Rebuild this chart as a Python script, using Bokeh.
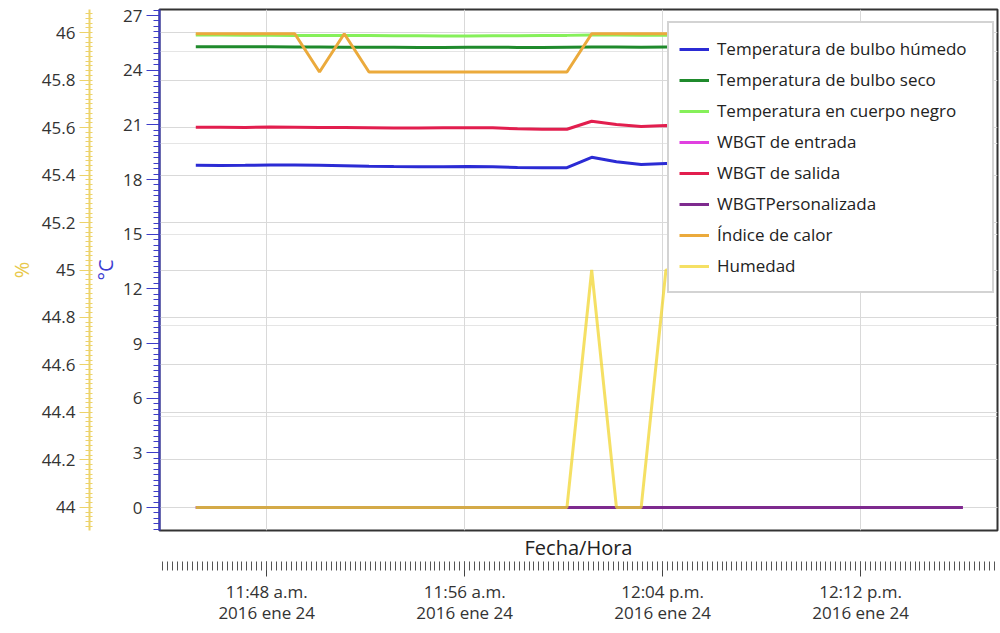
from datetime import datetime
import numpy as np
import pandas as pd
from bokeh.plotting import figure
from bokeh.models import (Range1d, LinearAxis, DatetimeAxis, FixedTicker, SingleIntervalTicker,
                          CustomJSTickFormatter, Grid, Legend, LegendItem, Title, ColumnDataSource)
from bokeh.embed import file_html
from bokeh.resources import INLINE

# ---------------- data ----------------
times = ["11:45:08", "11:46:08", "11:47:08", "11:48:08", "11:49:08", "11:50:08", "11:51:08", "11:52:08",
         "11:53:08", "11:54:08", "11:55:08", "11:56:08", "11:57:08", "11:58:08", "11:59:08", "12:00:08",
         "12:01:08", "12:02:08", "12:03:08", "12:04:08", "12:05:08", "12:06:08", "12:07:08", "12:08:08",
         "12:09:08", "12:10:08", "12:11:08", "12:12:08", "12:13:08", "12:14:08", "12:15:08", "12:16:08"]
date = "2016-01-24"

bulbo_humedo = [18.78, 18.77, 18.78, 18.80, 18.80, 18.78, 18.76, 18.73, 18.71, 18.70, 18.70, 18.71,
                18.70, 18.66, 18.65, 18.65, 19.22, 18.98, 18.82, 18.88, 18.90, 18.88, 18.86, 18.90,
                18.92, 18.90, 18.88, 18.90, 18.90, 18.92, 18.90, 18.90]
bulbo_seco = [25.29, 25.29, 25.28, 25.28, 25.27, 25.27, 25.26, 25.26, 25.26, 25.25, 25.25, 25.26,
              25.26, 25.25, 25.25, 25.26, 25.27, 25.27, 25.26, 25.27, 25.27, 25.26, 25.26, 25.27,
              25.27, 25.26, 25.26, 25.27, 25.27, 25.26, 25.26, 25.27]
cuerpo_negro = [25.93, 25.93, 25.92, 25.92, 25.91, 25.91, 25.90, 25.90, 25.89, 25.89, 25.88, 25.88,
                25.89, 25.89, 25.90, 25.91, 25.93, 25.93, 25.92, 25.92, 25.92, 25.91, 25.91, 25.92,
                25.92, 25.92, 25.91, 25.91, 25.92, 25.92, 25.91, 25.91]
wbgt_entrada = [0.0] * 32
wbgt_salida = [20.87, 20.87, 20.86, 20.88, 20.87, 20.86, 20.85, 20.84, 20.83, 20.83, 20.84, 20.84,
               20.84, 20.78, 20.76, 20.76, 21.20, 21.02, 20.91, 20.96, 20.95, 20.94, 20.93, 20.96,
               20.97, 20.95, 20.94, 20.96, 20.96, 20.97, 20.95, 20.95]
wbgt_personalizada = [0.0] * 32
indice_calor = [26.0, 26.0, 26.0, 26.0, 26.0, 23.9, 26.0, 23.9, 23.9, 23.9, 23.9, 23.9,
                23.9, 23.9, 23.9, 23.9, 26.0, 26.0, 26.0, 26.0, 26.0, 26.0, 26.0, 26.0,
                26.0, 26.0, 26.0, 26.0, 26.0, 26.0, 26.0, 26.0]
humedad = [44, 44, 44, 44, 44, 44, 44, 44, 44, 44, 44, 44, 44, 44, 44, 44,
           45, 44, 44, 45, 45, 45, 45, 45, 45, 45, 45, 45, 45, 45, 45, 45]

x_tick_times = ["11:48", "11:56", "12:04", "12:12"]

series = [
    ("Temperatura de bulbo húmedo", bulbo_humedo, "#2B2BD4", "default"),
    ("Temperatura de bulbo seco", bulbo_seco, "#1F8A2C", "default"),
    ("Temperatura en cuerpo negro", cuerpo_negro, "#86F05A", "default"),
    ("WBGT de entrada", wbgt_entrada, "#E040E0", "default"),
    ("WBGT de salida", wbgt_salida, "#E21E4E", "default"),
    ("WBGTPersonalizada", wbgt_personalizada, "#7E2A8E", "default"),
    ("Índice de calor", indice_calor, "#EBAA3C", "default"),
    ("Humedad", humedad, "#F2D630", "pct"),
]

FONT = "Open Sans"
t = pd.to_datetime([f"{date} {s}" for s in times])

p = figure(width=1000, height=633, output_backend="svg", toolbar_location=None,
           x_axis_type=None, y_axis_location=None, x_axis_location=None,
           x_range=Range1d(datetime(2016, 1, 24, 11, 43, 40), datetime(2016, 1, 24, 12, 17, 32)),
           y_range=Range1d(-1.262, 27.33),
           min_border_left=159, min_border_right=3, min_border_top=9, min_border_bottom=103)
p.extra_y_ranges = {"pct": Range1d(43.903, 46.097)}
p.outline_line_color = "#333333"
p.outline_line_width = 2
p.background_fill_color = "white"
p.border_fill_color = "white"

# ---------------- axes ----------------
ycel = LinearAxis(ticker=SingleIntervalTicker(interval=3, num_minor_ticks=10),
                  axis_label="°C")
ycel.axis_line_color = "#3C3CC8"
ycel.axis_line_width = 2
ycel.major_tick_line_color = "#3C3CC8"
ycel.minor_tick_line_color = "#3C3CC8"
ycel.major_tick_out = 13
ycel.major_tick_in = 0
ycel.minor_tick_out = 6
ycel.minor_tick_in = 0
ycel.major_label_text_font = FONT
ycel.major_label_text_font_size = "17px"
ycel.major_label_text_color = "#333333"
ycel.major_label_standoff = 4
ycel.axis_label_text_font = FONT
ycel.axis_label_text_font_size = "20px"
ycel.axis_label_text_font_style = "normal"
ycel.axis_label_text_color = "#3C3CD0"
ycel.axis_label_standoff = 1
p.add_layout(ycel, "left")

ypct = LinearAxis(y_range_name="pct", ticker=SingleIntervalTicker(interval=0.2, num_minor_ticks=10),
                  axis_label="%",
                  formatter=CustomJSTickFormatter(code="return (Math.round(tick*10)/10).toString();"))
ypct.axis_line_color = "#EDD36A"
ypct.axis_line_width = 2
ypct.major_tick_line_color = "#EDD36A"
ypct.minor_tick_line_color = "#EDD36A"
ypct.major_tick_out = 10
ypct.major_tick_in = 0
ypct.minor_tick_out = 4
ypct.minor_tick_in = 3
ypct.major_label_text_font = FONT
ypct.major_label_text_font_size = "17px"
ypct.major_label_text_color = "#333333"
ypct.major_label_standoff = 4
ypct.axis_label_text_font = FONT
ypct.axis_label_text_font_size = "20px"
ypct.axis_label_text_font_style = "normal"
ypct.axis_label_text_color = "#E8C84A"
ypct.axis_label_standoff = 4
p.add_layout(ypct, "left")

p.add_layout(Title(text="Fecha/Hora", align="center", text_font=FONT, text_font_size="20px",
                   text_font_style="normal", text_color="#222222", standoff=2), "below")

major_ms = [pd.Timestamp(f"{date} {s}").value // 10**6 for s in x_tick_times]
x_start_ms = pd.Timestamp("2016-01-24 11:43:36").value // 10**6
x_end_ms = pd.Timestamp("2016-01-24 12:17:36").value // 10**6
minor_ms = list(np.arange(x_start_ms, x_end_ms + 1, 12000).astype(float))
xticker = FixedTicker(ticks=major_ms, minor_ticks=minor_ms)
xfmt = CustomJSTickFormatter(code="""
const d = new Date(tick);
const h = d.getUTCHours(); const m = d.getUTCMinutes();
const ap = h < 12 ? "a.m." : "p.m.";
let h12 = h % 12; if (h12 === 0) h12 = 12;
const mm = m < 10 ? "0" + m : "" + m;
const mon = ["ene","feb","mar","abr","may","jun","jul","ago","sep","oct","nov","dic"][d.getUTCMonth()];
return h12 + ":" + mm + " " + ap + "\\n" + d.getUTCFullYear() + " " + mon + " " + d.getUTCDate();
""")
xax = DatetimeAxis(ticker=xticker, formatter=xfmt)
xax.axis_line_color = None
xax.major_tick_line_color = "#444444"
xax.minor_tick_line_color = "#555555"
xax.major_tick_out = 15
xax.major_tick_in = 0
xax.minor_tick_out = 9
xax.minor_tick_in = 0
xax.major_label_text_font = FONT
xax.major_label_text_font_size = "17px"
xax.major_label_text_color = "#333333"
xax.major_label_text_line_height = 0.95
xax.major_label_standoff = 3
p.add_layout(xax, "below")

# ---------------- grids ----------------
p.add_layout(Grid(dimension=0, ticker=xticker, grid_line_color="#D9D9D9", grid_line_width=1))
p.add_layout(Grid(dimension=1, ticker=ypct.ticker, y_range_name="pct",
                  grid_line_color="#D9D9D9", grid_line_width=1))

# ---------------- lines ----------------
renderers = {}
draw_order = [0, 1, 2, 4, 3, 5, 6, 7]
for i in draw_order:
    name, vals, color, rng = series[i]
    src = ColumnDataSource(dict(x=t, y=vals))
    kw = {} if rng == "default" else {"y_range_name": rng}
    alpha = 0.75 if name == "Humedad" else 1.0
    r = p.line("x", "y", source=src, line_color=color, line_width=3, line_alpha=alpha, **kw)
    renderers[i] = r

items = [LegendItem(label=series[i][0], renderers=[renderers[i]]) for i in range(len(series))]
legend = Legend(items=items, location=(508, 237), margin=0, padding=10, spacing=0,
                label_height=31, glyph_height=20, glyph_width=30, label_standoff=8, label_width=265,
                label_text_font=FONT, label_text_font_size="17px", label_text_color="#222222",
                border_line_color="#A8A8A8", border_line_width=2,
                background_fill_color="white", background_fill_alpha=1.0)
p.add_layout(legend, "center")

open("out.html", "w").write(file_html(p, INLINE))
